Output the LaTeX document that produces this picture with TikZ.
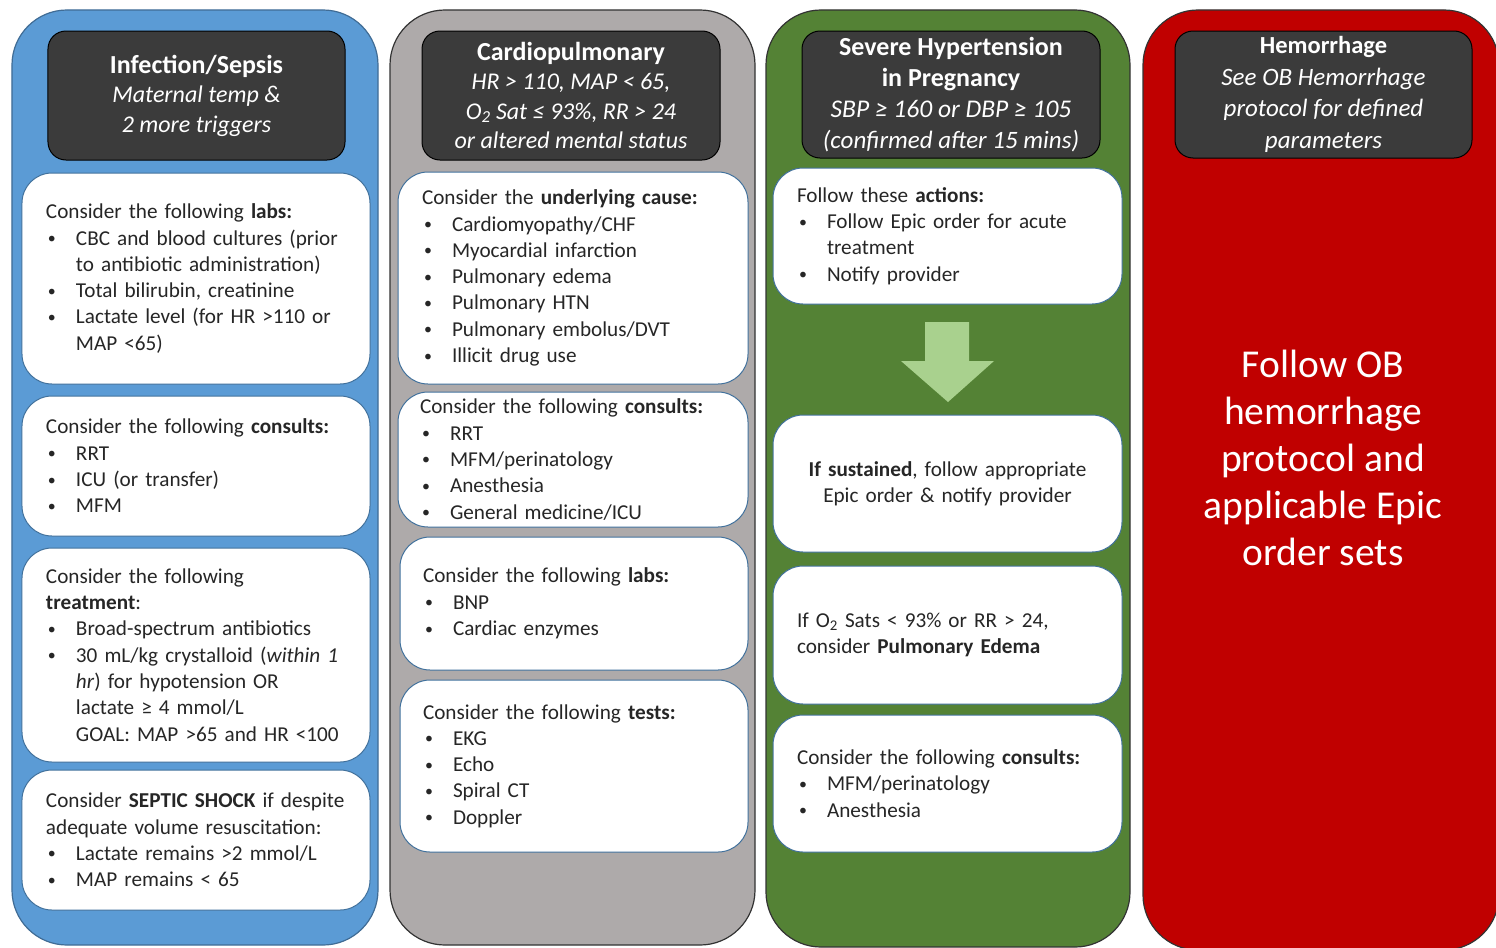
\documentclass[tikz,border=0pt]{standalone}
\usepackage{graphicx}
\usepackage{fontspec}
\setmainfont{Carlito}
\definecolor{colblue}{HTML}{5B9BD5}
\definecolor{colgray}{HTML}{AEAAAA}
\definecolor{colgreen}{HTML}{548235}
\definecolor{colred}{HTML}{C00000}
\definecolor{hdrgray}{HTML}{3B3B3B}
\definecolor{cardedge}{HTML}{41719C}
\definecolor{bodytext}{HTML}{262626}
\definecolor{arrowgreen}{HTML}{A9D18E}
\newcommand{\bitem}[1]{\makebox[30bp][l]{\hspace{2bp}\raisebox{1.5bp}{\scalebox{0.75}{\textbullet}}}#1}
\newcommand{\bcont}[1]{\makebox[30bp]{}#1}
\newcommand{\hb}[1]{{\fontsize{26bp}{30bp}\selectfont\bfseries #1}}
\newcommand{\hi}[1]{{\fontsize{24bp}{30bp}\selectfont\itshape #1}}
\tikzset{
  column/.style={draw=black!80, line width=1.2bp, rounded corners=55bp, inner sep=0pt},
  header/.style={fill=hdrgray, draw=black, line width=1bp, rounded corners=18bp, text=white,
    align=center, inner sep=0pt, font=\fontsize{24bp}{29.5bp}\selectfont},
  card/.style={fill=white, draw=cardedge, line width=1bp, rounded corners=30bp, text=bodytext,
    align=left, inner xsep=24bp, inner ysep=0pt, font=\fontsize{21.2bp}{26.3bp}\selectfont}
}
\begin{document}
\begin{tikzpicture}[x=1bp, y=-1bp]
\useasboundingbox (0,0) rectangle (1496,947);
\clip (0,0) rectangle (1496,947);
% columns
\node[column, fill=colblue, draw=colblue!70!black, minimum width=366bp, minimum height=935bp] (col1) at (195,477.5) {};
\node[column, fill=colgray, minimum width=365bp, minimum height=935bp] (col2) at (572.5,477.5) {};
\node[column, fill=colgreen, minimum width=364bp, minimum height=937bp] (col3) at (948,478.5) {};
\node[column, fill=colred, minimum width=356bp, minimum height=940bp] (col4) at (1321,480) {};
% headers
\node[header, minimum width=297bp, minimum height=129bp] (h1) at (196.5,95.5)
  {\hb{Infection/Sepsis}\\ \hi{Maternal temp \&}\\ \hi{2 more triggers}};
\node[header, minimum width=298bp, minimum height=129bp, font=\fontsize{24bp}{29.3bp}\selectfont] (h2) at (571,95.5)
  {\hb{Cardiopulmonary}\\ \hi{HR > 110, MAP < 65,}\\ \hi{O\textsubscript{2} Sat ≤ 93\%, RR > 24}\\ \hi{or altered mental status}};
\node[header, minimum width=298bp, minimum height=127bp, font=\fontsize{24bp}{31bp}\selectfont] (h3) at (951,94.5)
  {\hb{Severe Hypertension}\\ \hb{in Pregnancy}\\ {\fontsize{25.5bp}{31bp}\selectfont\itshape SBP ≥ 160 or DBP ≥ 105}\\ {\fontsize{25bp}{31bp}\selectfont\itshape (confirmed after 15 mins)}};
\node[header, minimum width=297bp, minimum height=127bp, font=\fontsize{25bp}{31.5bp}\selectfont] (h4) at (1323.5,94.5)
  {{\bfseries\fontsize{24.5bp}{31.5bp}\selectfont Hemorrhage}\\ \textit{See OB Hemorrhage}\\ \textit{protocol for defined}\\ \textit{parameters}};
% blue column cards
\node[card, text width=300bp, minimum height=211bp] (b1) at (196,278.5)
  {Consider the following \textbf{labs:}\\
   \bitem{CBC and blood cultures (prior}\\
   \bcont{to antibiotic administration)}\\
   \bitem{Total bilirubin, creatinine}\\
   \bitem{Lactate level (for HR >110 or}\\
   \bcont{MAP <65)}};
\node[card, text width=300bp, minimum height=140bp] (b2) at (196,466)
  {Consider the following \textbf{consults:}\\
   \bitem{RRT}\\
   \bitem{ICU (or transfer)}\\
   \bitem{MFM}};
\node[card, text width=300bp, minimum height=214bp] (b3) at (196,655)
  {Consider the following\\
   \textbf{treatment}:\\
   \bitem{Broad-spectrum antibiotics}\\
   \bitem{30 mL/kg crystalloid (\textit{within 1}}\\
   \bcont{\textit{hr}) for hypotension OR}\\
   \bcont{lactate ≥ 4 mmol/L}\\
   \bcont{GOAL: MAP >65 and HR <100}};
\node[card, text width=300bp, minimum height=140bp] (b4) at (196,840)
  {Consider \textbf{SEPTIC SHOCK} if despite\\
   adequate volume resuscitation:\\
   \bitem{Lactate remains >2 mmol/L}\\
   \bitem{MAP remains < 65}};
% gray column cards
\node[card, text width=302bp, minimum height=212bp] (g1) at (573,278)
  {Consider the \textbf{underlying cause:}\\
   \bitem{Cardiomyopathy/CHF}\\
   \bitem{Myocardial infarction}\\
   \bitem{Pulmonary edema}\\
   \bitem{Pulmonary HTN}\\
   \bitem{Pulmonary embolus/DVT}\\
   \bitem{Illicit drug use}};
\node[card, text width=306bp, inner xsep=22bp, minimum height=135bp] (g2) at (573,459.5)
  {Consider the following \textbf{consults:}\\
   \bitem{RRT}\\
   \bitem{MFM/perinatology}\\
   \bitem{Anesthesia}\\
   \bitem{General medicine/ICU}};
\node[card, text width=302bp, inner xsep=23bp, minimum height=133bp] (g3) at (574,603.5)
  {Consider the following \textbf{labs:}\\
   \bitem{BNP}\\
   \bitem{Cardiac enzymes}};
\node[card, text width=302bp, inner xsep=23bp, minimum height=172bp] (g4) at (574,766)
  {Consider the following \textbf{tests:}\\
   \bitem{EKG}\\
   \bitem{Echo}\\
   \bitem{Spiral CT}\\
   \bitem{Doppler}};
% green column
\node[card, text width=301bp, minimum height=136bp] (n1) at (947.5,236)
  {Follow these \textbf{actions:}\\
   \bitem{Follow Epic order for acute}\\
   \bcont{treatment}\\
   \bitem{Notify provider}};
\fill[arrowgreen] (925,322) -- (969,322) -- (969,361) -- (994,361) -- (948,402) -- (901,361) -- (925,361) -- cycle;
\node[card, align=center, text width=301bp, minimum height=137bp] (n2) at (947.5,483.5)
  {\textbf{If sustained}, follow appropriate\\ Epic order \& notify provider};
\node[card, text width=301bp, minimum height=138bp] (n3) at (947.5,635)
  {If O\textsubscript{2} Sats < 93\% or RR > 24,\\ consider \textbf{Pulmonary Edema}};
\node[card, text width=301bp, minimum height=137bp] (n4) at (947.5,783.5)
  {Consider the following \textbf{consults:}\\
   \bitem{MFM/perinatology}\\
   \bitem{Anesthesia}};
% red column text
\node[text=white, align=center, font=\fontsize{39.5bp}{47.2bp}\selectfont] (redtext) at (1323,458)
  {Follow OB\\ hemorrhage\\ protocol and\\ applicable Epic\\ order sets};
\end{tikzpicture}
\end{document}
